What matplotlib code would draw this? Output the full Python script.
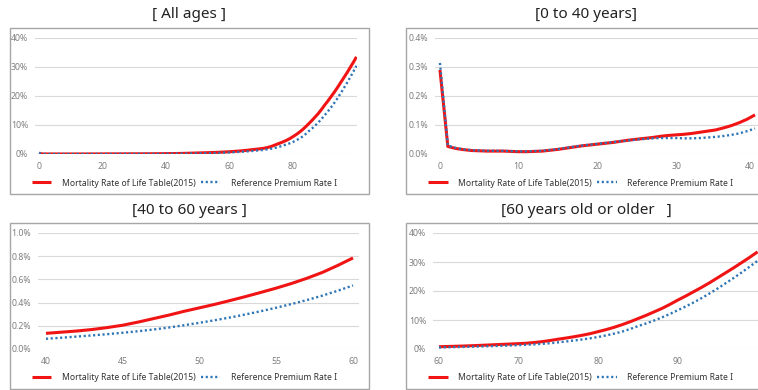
import matplotlib
matplotlib.use("Agg")
import matplotlib.pyplot as plt
from matplotlib.patches import Rectangle
from matplotlib.ticker import FuncFormatter, MultipleLocator

plt.rcParams['font.family'] = ['Noto Sans', 'DejaVu Sans']

# Age 0..100
ages = list(range(0, 101))

# Mortality rate of life table (2015), in %
life_table = [
    0.290, 0.026, 0.019, 0.015, 0.012, 0.011, 0.010, 0.010, 0.010, 0.009,
    0.008, 0.008, 0.009, 0.010, 0.013, 0.016, 0.020, 0.024, 0.028, 0.031,
    0.034, 0.037, 0.040, 0.044, 0.048, 0.051, 0.054, 0.057, 0.061, 0.064,
    0.066, 0.068, 0.071, 0.075, 0.079, 0.083, 0.090, 0.098, 0.108, 0.120,
    0.135, 0.145, 0.155, 0.168, 0.185, 0.205, 0.232, 0.262, 0.292, 0.325,
    0.355, 0.385, 0.418, 0.452, 0.488, 0.525, 0.565, 0.610, 0.660, 0.720,
    0.785, 0.86, 0.94, 1.02, 1.12, 1.23, 1.35, 1.48, 1.60, 1.72,
    1.85, 2.00, 2.25, 2.55, 2.95, 3.40, 3.80, 4.25, 4.75, 5.30,
    6.00, 6.70, 7.50, 8.40, 9.40, 10.5, 11.6, 12.8, 14.0, 15.4,
    16.9, 18.3, 19.8, 21.3, 22.9, 24.6, 26.3, 28.0, 29.8, 31.6,
    33.5,
]

# Reference premium rate I, in %
premium_rate = [
    0.314, 0.029, 0.021, 0.016, 0.013, 0.012, 0.011, 0.011, 0.011, 0.010,
    0.009, 0.009, 0.010, 0.011, 0.014, 0.017, 0.021, 0.025, 0.029, 0.032,
    0.035, 0.038, 0.041, 0.044, 0.047, 0.050, 0.052, 0.054, 0.055, 0.055,
    0.055, 0.054, 0.054, 0.055, 0.057, 0.059, 0.062, 0.066, 0.071, 0.079,
    0.088, 0.097, 0.107, 0.117, 0.128, 0.140, 0.153, 0.168, 0.185, 0.205,
    0.226, 0.248, 0.272, 0.298, 0.326, 0.356, 0.388, 0.422, 0.460, 0.502,
    0.548, 0.60, 0.66, 0.72, 0.79, 0.86, 0.94, 1.03, 1.12, 1.22,
    1.33, 1.46, 1.61, 1.79, 2.00, 2.30, 2.60, 2.95, 3.30, 3.70,
    4.15, 4.70, 5.30, 6.00, 6.90, 7.90, 8.80, 9.80, 10.9, 12.1,
    13.4, 14.7, 16.1, 17.6, 19.2, 20.9, 22.7, 24.5, 26.4, 28.4,
    30.4,
]

series_labels = ["Mortality Rate of Life Table(2015)", "Reference Premium Rate I"]

panels = [
    # title, age range, y max, y step, decimals, x ticks
    ("[ All ages ]", (0, 100), 40, 10, 0, [0, 20, 40, 60, 80]),
    ("[0 to 40 years]", (0, 40), 0.4, 0.1, 1, [0, 10, 20, 30, 40]),
    ("[40 to 60 years ]", (40, 60), 1.0, 0.2, 1, [40, 45, 50, 55, 60]),
    ("[60 years old or older   ]", (60, 100), 40, 10, 0, [60, 70, 80, 90]),
]

W, H = 758, 390
fig = plt.figure(figsize=(W / 100, H / 100), dpi=100)

# pixel geometry: box (x0, x1, top, bottom), axes (x0, x1, top, bottom), xlim
layout = [
    ((9.5, 369, 28, 194), (35, 357, 38, 154), (-1.26, 100.16)),
    ((406, 766, 28, 194), (435, 760, 38, 154), (-0.63, 40.63)),
    ((9.5, 369, 223, 389), (38, 359, 233, 349), (39.48, 60.39)),
    ((406, 766, 223, 389), (433, 760, 233, 349), (59.25, 100.3)),
]

RED = "#f01414"
BLUE = "#2e75b6"
GRID = "#d9d9d9"
TICK = "#7f7f7f"

for (title, (a0, a1), ymax, ystep, dec, xticks), (box, axp, xlim) in zip(panels, layout):
    bx0, bx1, bt, bb = box
    fig.patches.append(Rectangle((bx0 / W, 1 - bb / H), (bx1 - bx0) / W, (bb - bt) / H,
                                 transform=fig.transFigure, fill=False,
                                 edgecolor="#a6a6a6", linewidth=1.0))
    fig.text((bx0 + bx1) / 2 / W, 1 - (bt - 13) / H, title,
             ha="center", va="center", fontsize=11, color="#222222")

    x0, x1, t, b = axp
    ax = fig.add_axes([x0 / W, 1 - b / H, (x1 - x0) / W, (b - t) / H])
    xs = ages[a0:a1 + 1]
    l1, = ax.plot(xs, life_table[a0:a1 + 1], color=RED, lw=2.2, solid_capstyle="butt")
    l2, = ax.plot(xs, premium_rate[a0:a1 + 1], color=BLUE, lw=1.7, linestyle=(0, (0.9, 1.1)))

    ax.set_xlim(*xlim)
    ax.set_ylim(0, ymax)
    ax.yaxis.set_major_locator(MultipleLocator(ystep))
    ax.set_xticks(xticks)
    ax.yaxis.set_major_formatter(FuncFormatter(lambda v, p, d=dec: f"{v:.{d}f}%"))
    for s in ax.spines.values():
        s.set_visible(False)
    ax.grid(axis="y", color=GRID, lw=0.8)
    ax.set_axisbelow(True)
    ax.tick_params(length=0, labelsize=6.3, labelcolor=TICK)
    ax.tick_params(axis="y", pad=5)
    ax.tick_params(axis="x", pad=6)

    # keep a tick label that would run past the figure's right edge inside it
    fig.canvas.draw()
    right_px = fig.bbox.width
    for lab in ax.get_xticklabels():
        ext = lab.get_window_extent()
        if ext.x1 > right_px - 1:
            lab.set_horizontalalignment("right")

    fig.legend([l1, l2], series_labels, loc="center left",
               bbox_to_anchor=((bx0 + 22) / W, 1 - (bb - 11) / H), ncol=2,
               frameon=False, fontsize=6.2, handlelength=2.3, handletextpad=1.2,
               columnspacing=0.6, borderpad=0, borderaxespad=0,
               labelcolor="#333333")

fig.savefig("out.png", dpi=100, facecolor="white")
